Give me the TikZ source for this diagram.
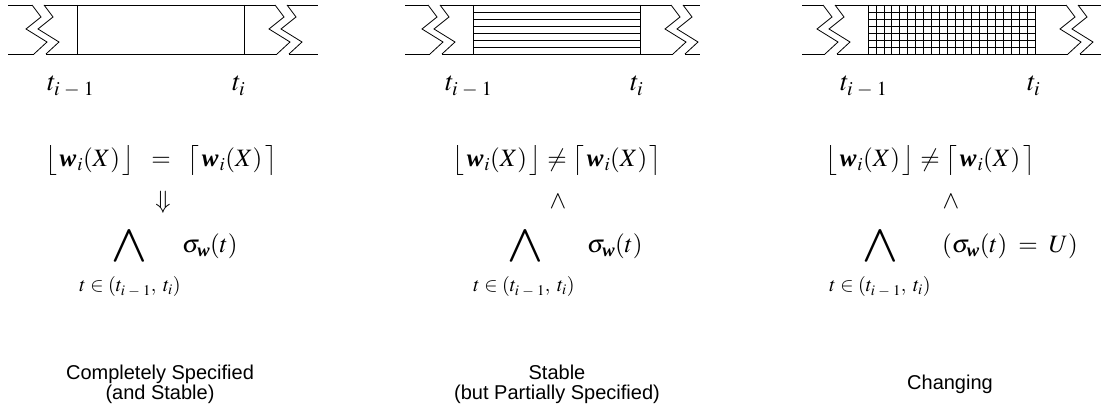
\documentclass[tikz,border=0pt]{standalone}
\usepackage{amsmath}
\usepackage{mathptmx}
\usepackage[no-math]{fontspec}
\newfontfamily\lsans{Liberation Sans}
\newfontfamily\lserif{Liberation Serif}
\newcommand\bw{\text{\lserif\bfseries\itshape w}}
\newcommand\tim{t_{i\mskip4mu-\mskip4mu1}}
\newcommand\fl{\bigl\lfloor\,\bw_{\mkern1mu i}(X)\,\bigr\rfloor}
\newcommand\ce{\bigl\lceil\,\bw_{\mkern1mu i}(X)\,\bigr\rceil}
\newcommand\bigand{\scalebox{1.3}[1]{$\displaystyle\bigwedge$}}
\tikzset{
  ln/.style={line width=0.8pt},
  tlab/.style={inner sep=0pt, anchor=base west, font=\fontsize{27}{30}\selectfont},
  mth/.style={inner sep=0pt, font=\fontsize{25}{28}\selectfont},
  bigop/.style={inner sep=0pt, font=\fontsize{26}{28}\selectfont},
  smth/.style={inner sep=0pt, anchor=base, font=\fontsize{20}{22}\selectfont},
  lab/.style={inner sep=0pt, align=center, font=\lsans\fontsize{20}{20}\selectfont},
}
\newcommand\zig[1]{\draw[ln] (#1,5) -- ++(9,12) -- ++(-15,12) -- ++(21,13) -- ++(-13,12);}
\newcommand\strip[3]{%
  \draw[ln] (#2,5) -- (#1-45,5);
  \draw[ln] (#2,54) -- (#1-43,54);
  \zig{#1-45}\zig{#1-33}
  \draw[ln] (#1-33,5) -- (#1+198,5);
  \draw[ln] (#1-31,54) -- (#1+200,54);
  \zig{#1+198}\zig{#1+210}
  \draw[ln] (#1+210,5) -- (#3,5);
  \draw[ln] (#1+212,54) -- (#3,54);
  \draw[ln] (#1,5) -- (#1,54) (#1+167,5) -- (#1+167,54);
}
\begin{document}
\begin{tikzpicture}[x=1pt,y=-1pt]
\useasboundingbox (0,0) rectangle (1101,411);
% strips
\strip{77}{8}{318}
\strip{473}{405}{700}
\strip{868}{802}{1101}
\foreach \k in {1,...,6} \draw[ln] (473,5+7*\k) -- (640,5+7*\k);
\foreach \k in {1,...,6} \draw[ln] (868,5+7*\k) -- (1035,5+7*\k);
\foreach \k in {1,...,20} \draw[ln] (868+167*\k/21,5) -- ++(0,49);
% time labels
\node[tlab] (a1) at (47,91) {$\tim$};
\node[tlab] (b1) at (232,91) {$t_i$};
\node[tlab] (a2) at (445,91) {$\tim$};
\node[tlab] (b2) at (630,91) {$t_i$};
\node[tlab] (a3) at (840,91) {$\tim$};
\node[tlab] (b3) at (1027,91) {$t_i$};
% panel 1
\node[mth, anchor=base] (f1) at (161,167) {$\fl \;\;=\;\; \ce$};
\node[mth] (i1) at (163,202) {$\Downarrow$};
\node[bigop] (w1) at (129,246) {\bigand};
\node[mth, anchor=base west] (s1) at (182,253) {$\sigma_{\bw}(t)$};
\node[smth] (r1) at (130,292) {$t \in (\tim,\; t_i)$};
% panel 2
\node[mth, anchor=base] (f2) at (557,167) {$\fl \neq \ce$};
\node[mth] (i2) at (558,202) {$\wedge$};
\node[bigop] (w2) at (525,246) {\bigand};
\node[mth, anchor=base west] (s2) at (587,253) {$\sigma_{\bw}(t)$};
\node[smth] (r2) at (524,292) {$t \in (\tim,\; t_i)$};
% panel 3
\node[mth, anchor=base] (f3) at (930,167) {$\fl \neq \ce$};
\node[mth] (i3) at (951,202) {$\wedge$};
\node[bigop] (w3) at (880,246) {\bigand};
\node[mth, anchor=base west] (s3) at (942,253) {$(\sigma_{\bw}(t) \;=\; U)$};
\node[smth] (r3) at (880,292) {$t \in (\tim,\; t_i)$};
% captions
\node[lab] (c1) at (160,384) {Completely Specified\\(and Stable)};
\node[lab] (c2) at (557,384) {Stable\\(but Partially Specified)};
\node[lab] (c3) at (950,384) {Changing};
\end{tikzpicture}
\end{document}
